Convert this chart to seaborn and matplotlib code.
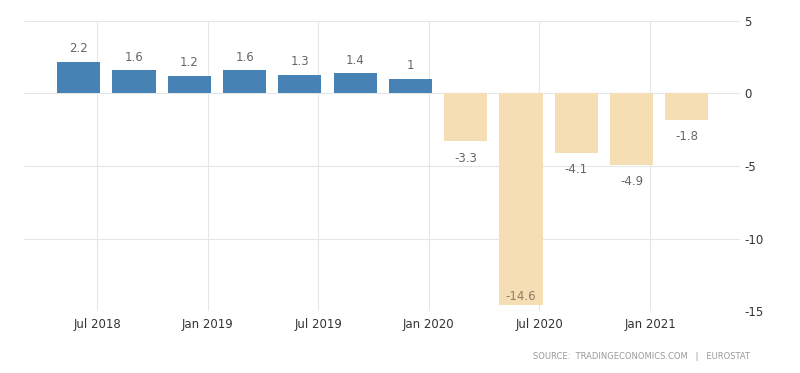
"""
Euro area GDP growth rate (YoY), quarterly bars in trading-economics style.
"""

import seaborn as sns
import matplotlib.pyplot as plt
import pandas as pd

# =============================
# DATA
# =============================

quarters = ["Q2 2018", "Q3 2018", "Q4 2018", "Q1 2019", "Q2 2019", "Q3 2019",
            "Q4 2019", "Q1 2020", "Q2 2020", "Q3 2020", "Q4 2020", "Q1 2021"]
values = [2.2, 1.6, 1.2, 1.6, 1.3, 1.4, 1.0, -3.3, -14.6, -4.1, -4.9, -1.8]
value_labels = ["2.2", "1.6", "1.2", "1.6", "1.3", "1.4", "1",
                "-3.3", "-14.6", "-4.1", "-4.9", "-1.8"]
tick_labels = ["Jul 2018", "Jan 2019", "Jul 2019", "Jan 2020", "Jul 2020", "Jan 2021"]
y_ticks = [5, 0, -5, -10, -15]

df = pd.DataFrame({"pos": range(len(values)), "value": values})
df["sign"] = ["pos" if v >= 0 else "neg" for v in values]

# =============================
# PLOT
# =============================

sns.set_style("white")
plt.rcParams["font.family"] = ["DejaVu Sans"]

fig = plt.figure(figsize=(8, 3.73), dpi=100)
ax = fig.add_axes([0.03, 0.166, 0.895, 0.778])

sns.barplot(data=df, x="pos", y="value", hue="sign", native_scale=True,
            palette={"pos": "#4682b4", "neg": "#f5deb3"}, dodge=False,
            width=0.78, legend=False, ax=ax, saturation=1, zorder=3,
            linewidth=0, edgecolor="none")

for x, v, lab in zip(df["pos"], values, value_labels):
    if v >= 0:
        ax.text(x, v + 0.9, lab, ha="center", va="center", fontsize=8.5, color="#666666")
    elif v < -13:
        ax.text(x, v + 0.6, lab, ha="center", va="center", fontsize=8.5, color="#8c7c66")
    else:
        ax.text(x, v - 1.17, lab, ha="center", va="center", fontsize=8.5, color="#666666")

ax.set_xlim(-0.99, 11.96)
ax.set_ylim(-15, 5)

ax.set_xticks([1 / 3 + 2 * i for i in range(len(tick_labels))])
ax.set_xticklabels(tick_labels)
ax.set_yticks(y_ticks)
ax.set_yticklabels([str(t) for t in y_ticks])
ax.yaxis.tick_right()
ax.tick_params(axis="both", length=0, labelsize=8.5, labelcolor="#333333")
ax.tick_params(axis="x", pad=5)
ax.tick_params(axis="y", pad=3)

ax.grid(True, color="#e6e6e6", linewidth=0.8, zorder=0)
ax.set_axisbelow(True)
for s in ax.spines.values():
    s.set_visible(False)
ax.set_xlabel("")
ax.set_ylabel("")

fig.text(0.9375, 0.043, "SOURCE:  TRADINGECONOMICS.COM   |   EUROSTAT",
         ha="right", va="center", fontsize=6, color="#999999")

plt.savefig("out.png", dpi=100)
plt.close()
